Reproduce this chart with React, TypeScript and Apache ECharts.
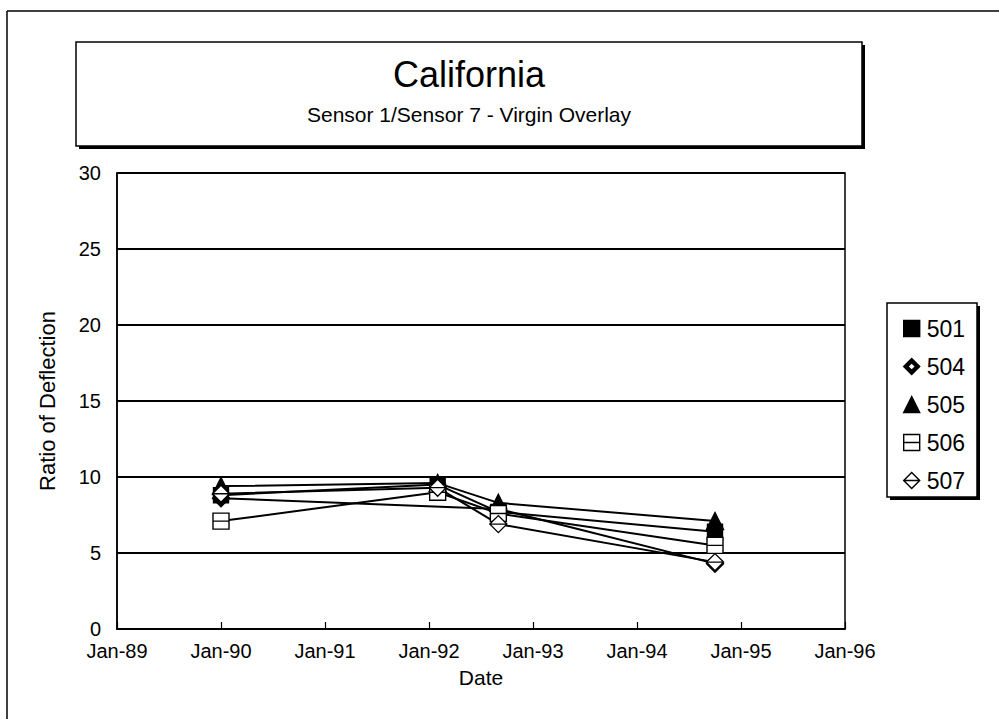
import React, { useEffect, useRef } from "react";
import * as echarts from "echarts";

const dates = ["1990-01", "1992-02", "1992-09", "1994-10"];
const seriesNames = ["501", "504", "505", "506", "507"];
const s501 = [8.8, 9.5, 7.7, 6.4];
const s504 = [8.6, null, 7.9, 4.3];
const s505 = [9.4, 9.6, 8.3, 7.1];
const s506 = [7.1, 9.0, 7.6, 5.5];
const s507 = [8.9, 9.3, 6.9, 4.4];
const yTicks = [0, 5, 10, 15, 20, 25, 30];
const xYears = [1989, 1990, 1991, 1992, 1993, 1994, 1995, 1996];

const FONT = "'Liberation Sans', Arial, sans-serif";

const SYM_DIAMOND_HATCH = "path://M5,0L10,5L5,10L0,5Z M5,2.6L2.6,5L5,7.4L7.4,5Z";
const SYM_SQUARE_LINE = "path://M0,0H10V10H0Z M0,5H10";
const SYM_DIAMOND_LINE = "path://M5,0L10,5L5,10L0,5Z M0,5H10";

const toYear = (d: string) => {
  const [y, m] = d.split("-").map(Number);
  return y + (m - 1) / 12;
};

export default function App() {
  const ref = useRef<HTMLDivElement>(null);
  useEffect(() => {
    document.body.style.margin = "0";
    const chart = echarts.init(ref.current!, undefined, { renderer: "svg" });
    const xs = dates.map(toYear);
    const mk = (vals: (number | null)[]) => vals.map((v, i) => [xs[i], v]);
    const styles: any = {
      "501": { symbol: "rect", size: 15, color: "#000" },
      "504": { symbol: SYM_DIAMOND_HATCH, size: 17, color: "#000" },
      "505": { symbol: "triangle", size: 17, color: "#000" },
      "506": { symbol: SYM_SQUARE_LINE, size: 16, color: "#fff" },
      "507": { symbol: SYM_DIAMOND_LINE, size: 17, color: "#fff" },
    };
    const vals: any = { "501": s501, "504": s504, "505": s505, "506": s506, "507": s507 };
    const series = seriesNames.map((n) => ({
      name: n,
      type: "line",
      data: mk(vals[n]),
      connectNulls: true,
      symbol: styles[n].symbol,
      symbolSize: styles[n].size,
      showAllSymbol: true,
      lineStyle: { color: "#000", width: 2 },
      itemStyle: { color: styles[n].color, borderColor: "#000", borderWidth: 1.4, opacity: 1 },
      emphasis: { disabled: true },
    }));

    chart.setOption({
      animation: false,
      backgroundColor: "#fff",
      textStyle: { fontFamily: FONT },
      grid: { left: 117, right: 154, top: 173, bottom: 90, show: true, borderColor: "#000", borderWidth: 1.5 },
      xAxis: {
        type: "value",
        min: xYears[0],
        max: xYears[xYears.length - 1],
        interval: 1,
        name: "Date",
        nameLocation: "middle",
        nameGap: 38,
        nameTextStyle: { fontSize: 21, color: "#000", fontFamily: FONT },
        axisLine: { show: true, lineStyle: { color: "#000", width: 1.5 } },
        axisTick: { show: true, inside: true, length: 7, lineStyle: { color: "#000", width: 1.2 } },
        splitLine: { show: false },
        axisLabel: {
          color: "#000",
          fontSize: 20,
          fontFamily: FONT,
          margin: 12,
          formatter: (v: number) => "Jan-" + String(Math.round(v)).slice(2),
        },
      },
      yAxis: {
        type: "value",
        min: yTicks[0],
        max: yTicks[yTicks.length - 1],
        interval: 5,
        name: "Ratio of Deflection",
        nameLocation: "middle",
        nameGap: 59,
        nameTextStyle: { fontSize: 22, color: "#000", fontFamily: FONT },
        axisLine: { show: true, lineStyle: { color: "#000", width: 1.5 } },
        axisTick: { show: false },
        splitLine: { show: true, lineStyle: { color: "#000", width: 2 } },
        axisLabel: { color: "#000", fontSize: 20, fontFamily: FONT, margin: 16 },
      },
      legend: {
        orient: "vertical",
        left: 898,
        top: 312,
        itemWidth: 16,
        itemHeight: 16,
        itemGap: 15,
        selectedMode: false,
        textStyle: { fontSize: 23, color: "#000", fontFamily: FONT, lineHeight: 23, padding: [0, 0, 0, 2] },
        data: seriesNames.map((n) => ({
          name: n,
          icon: styles[n].symbol,
          itemStyle: { color: styles[n].color, borderColor: "#000", borderWidth: 1.4 },
        })),
      },
      graphic: [
        { type: "line", shape: { x1: 7, y1: 11, x2: 999, y2: 11 }, style: { stroke: "#000", lineWidth: 1.5 } },
        { type: "line", shape: { x1: 7, y1: 11, x2: 7, y2: 719 }, style: { stroke: "#000", lineWidth: 1.5 } },
        // title box shadow + box
        { type: "rect", shape: { x: 79, y: 45, width: 786, height: 104 }, style: { fill: "#000" } },
        { type: "rect", shape: { x: 76, y: 42, width: 786, height: 104 }, style: { fill: "#fff", stroke: "#000", lineWidth: 1.5 } },
        {
          type: "text",
          x: 469,
          y: 74,
          style: { text: "California", fontSize: 36, fontFamily: FONT, fill: "#000", align: "center", verticalAlign: "middle" },
        },
        {
          type: "text",
          x: 469,
          y: 114,
          style: { text: "Sensor 1/Sensor 7 - Virgin Overlay", fontSize: 21, fontFamily: FONT, fill: "#000", align: "center", verticalAlign: "middle" },
        },
        // legend box shadow + box
        { type: "rect", z: -1, shape: { x: 890, y: 306, width: 90, height: 194 }, style: { fill: "#000" } },
        { type: "rect", z: -1, shape: { x: 887, y: 303, width: 90, height: 194 }, style: { fill: "#fff", stroke: "#000", lineWidth: 1.5 } },
      ],
      series,
    });
    return () => chart.dispose();
  }, []);
  return <div ref={ref} style={{ width: 999, height: 719 }} />;
}
